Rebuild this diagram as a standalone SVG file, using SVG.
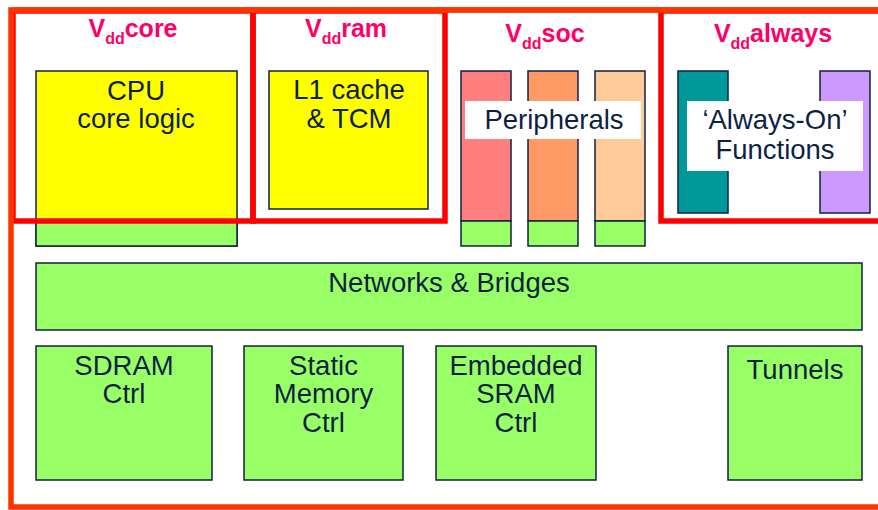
<svg xmlns="http://www.w3.org/2000/svg" width="878" height="510" viewBox="0 0 878 510">
<style>
.blk{stroke:#0f2040;stroke-width:1.5}
.t{font-family:"Liberation Sans",Arial,sans-serif;font-size:27.5px;fill:#0d1f45;text-anchor:middle}
.lbl{font-family:"Liberation Sans",Arial,sans-serif;font-weight:bold;font-size:25px;fill:#ff0066;text-anchor:middle}
.sub{font-size:16px}
.dom{fill:none;stroke:#ff0000;stroke-width:5.5}
.outer{fill:none;stroke:#ff3300;stroke-width:5.5}
.g{fill:#99ff66}
</style>
<rect width="878" height="510" fill="#ffffff"/>

<g id="cpu">
<rect class="blk" x="36" y="71" width="201" height="175" fill="#ffff00"/>
<rect class="blk g" x="36" y="222" width="201" height="24"/>
<text class="t" x="136" y="100">CPU</text>
<text class="t" x="136" y="128">core logic</text>
</g>

<g id="l1cache">
<rect class="blk" x="269" y="71" width="159" height="138" fill="#ffff00"/>
<text class="t" x="349" y="99">L1 cache</text>
<text class="t" x="349" y="128">&amp; TCM</text>
</g>

<g id="peripherals">
<rect class="blk" x="461" y="71" width="50" height="150" fill="#ff7f7f"/>
<rect class="blk g" x="461" y="221" width="50" height="25"/>
<rect class="blk" x="528" y="71" width="50" height="150" fill="#ff9966"/>
<rect class="blk g" x="528" y="221" width="50" height="25"/>
<rect class="blk" x="595" y="71" width="50" height="150" fill="#ffcc99"/>
<rect class="blk g" x="595" y="221" width="50" height="25"/>
<rect x="465" y="101" width="176" height="38" fill="#ffffff"/>
<text class="t" x="554" y="129">Peripherals</text>
</g>

<g id="alwayson">
<rect class="blk" x="678" y="71" width="50" height="142" fill="#009999"/>
<rect class="blk" x="820" y="71" width="50" height="142" fill="#cc99ff"/>
<rect x="687" y="101" width="176" height="70" fill="#ffffff"/>
<text class="t" x="775" y="129">‘Always-On’</text>
<text class="t" x="775" y="159">Functions</text>
</g>

<g id="networks">
<rect class="blk g" x="36" y="263" width="826" height="67"/>
<text class="t" x="449" y="292">Networks &amp; Bridges</text>
</g>

<g id="sdram">
<rect class="blk g" x="36" y="346" width="176" height="134"/>
<text class="t" x="124" y="375">SDRAM</text>
<text class="t" x="124" y="403">Ctrl</text>
</g>

<g id="static">
<rect class="blk g" x="244" y="346" width="159" height="134"/>
<text class="t" x="323.5" y="375">Static</text>
<text class="t" x="323.5" y="403">Memory</text>
<text class="t" x="323.5" y="432">Ctrl</text>
</g>

<g id="esram">
<rect class="blk g" x="436" y="346" width="160" height="134"/>
<text class="t" x="516" y="375">Embedded</text>
<text class="t" x="516" y="403">SRAM</text>
<text class="t" x="516" y="432">Ctrl</text>
</g>

<g id="tunnels">
<rect class="blk g" x="728" y="346" width="134" height="134"/>
<text class="t" x="795" y="379">Tunnels</text>
</g>

<g id="domains">
<rect class="dom" x="13" y="11" width="240" height="210"/>
<rect class="dom" x="253" y="11" width="192" height="210"/>
<rect class="dom" x="661" y="11" width="230" height="210"/>
<rect class="outer" x="11" y="10" width="880" height="497"/>
<path class="outer" d="M13 10 H878"/>
</g>

<g id="labels">
<text class="lbl" x="133" y="37">V<tspan class="sub" dy="7">dd</tspan><tspan dy="-7">core</tspan></text>
<text class="lbl" x="346" y="37">V<tspan class="sub" dy="7">dd</tspan><tspan dy="-7">ram</tspan></text>
<text class="lbl" x="545" y="42">V<tspan class="sub" dy="7">dd</tspan><tspan dy="-7">soc</tspan></text>
<text class="lbl" x="773" y="42">V<tspan class="sub" dy="7">dd</tspan><tspan dy="-7">always</tspan></text>
</g>
<g id="connectors"/>
</svg>
